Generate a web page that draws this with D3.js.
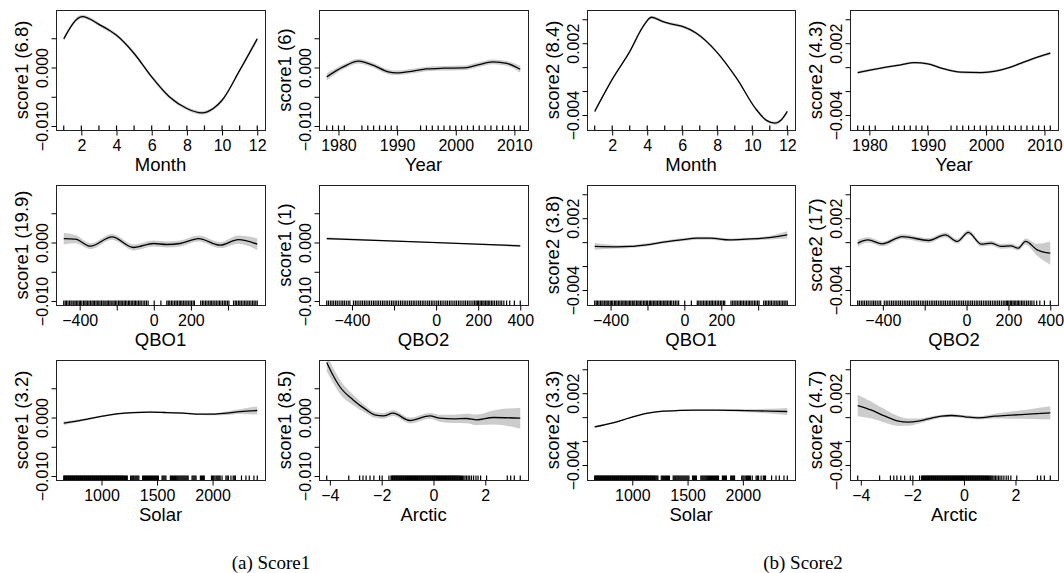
<!DOCTYPE html>
<html><head><meta charset="utf-8">
<script src="https://cdn.jsdelivr.net/npm/d3@7"></script>
<style>body{margin:0;background:#fff}svg{display:block}</style>
</head><body><svg id="c" width="1064" height="573"></svg>
<script>
// ---------- data ----------
const yLim1 = [-0.01068, 0.00983];
const yLim2 = [-0.00525, 0.004775];
const yTicks1 = [-0.010, -0.005, 0.000, 0.005];
const yTickLabels1 = ["\u22120.010", "", "0.000", ""];
const yTicks2 = [-0.004, -0.002, 0.000, 0.002, 0.004];
const yTickLabels2 = ["\u22120.004", "", "", "0.002", ""];

const xTicksMonth = [2, 4, 6, 8, 10, 12];
const xLabelsMonth = ["2", "4", "6", "8", "10", "12"];
const xTicksYear = [1980, 1990, 2000, 2010];
const xLabelsYear = ["1980", "1990", "2000", "2010"];
const xTicksQBO = [-400, -200, 0, 200, 400];
const xLabelsQBO1 = ["\u2212400", "", "0", "200", ""];
const xLabelsQBO2 = ["\u2212400", "", "0", "200", "400"];
const xTicksSolar = [1000, 1500, 2000];
const xLabelsSolar = ["1000", "1500", "2000"];
const xTicksArctic = [-4, -2, 0, 2];
const xLabelsArctic = ["\u22124", "\u22122", "0", "2"];

// rug (observed covariate values)
const rugMonth = [1,2,3,4,5,6,7,8,9,10,11,12];
const rugYear = [1978,1979,1980,1981,1984,1985,1986,1987,1988,1989,1990,1994,1995,1996,1997,1998,1999,2000,2001,2002,2003,2004,2005,2006,2007,2008,2009,2010,2011];
const rugQBO1 = [-486,-478,-471,-463,-455,-447,-441,-432,-425,-418,-410,-402,-395,-388,-379,-372,-365,-357,-350,-342,-334,-327,-320,-312,-305,-297,-290,-282,-274,-268,-259,-252,-245,-237,-230,-221,-214,-206,-199,-190,-183,-176,-168,-160,-153,-145,-137,-130,-122,-114,-106,-99,-91,-83,-75,-68,-58,-49,-40,-31,2,38,70,78,86,95,103,112,120,128,137,145,152,161,169,178,186,195,203,212,219,253,262,270,279,287,296,304,312,320,329,337,346,354,362,371,380,388,397,405,430,439,447,456,464,472,481,490,498,507,515,524,533,541,550,558];
const rugQBO2 = [-520,-512,-503,-495,-487,-478,-470,-461,-452,-444,-436,-427,-418,-410,-393,-384,-376,-367,-358,-350,-341,-333,-324,-316,-307,-298,-290,-281,-273,-264,-255,-247,-238,-230,-221,-212,-204,-195,-187,-178,-169,-161,-152,-144,-135,-126,-118,-109,-101,-92,-83,-75,-66,-58,-49,-40,-32,-23,-15,-6,3,11,20,28,37,46,54,63,71,80,89,97,106,114,123,132,140,149,157,166,175,183,190,196,202,209,215,222,228,235,242,248,255,263,270,278,287,295,304,312,322,335,350,372,400];
const rugSolar = [660,666,672,678,684,690,696,702,708,714,720,726,732,738,744,750,756,762,768,774,780,786,792,798,804,810,816,822,828,834,840,846,852,858,864,870,876,882,888,894,900,906,912,918,924,930,936,942,948,954,960,966,972,978,984,990,996,1002,1008,1014,1020,1026,1032,1038,1044,1050,1056,1062,1068,1074,1080,1086,1092,1098,1104,1110,1116,1122,1128,1134,1140,1146,1152,1158,1164,1170,1176,1182,1188,1194,1200,1208,1216,1224,1232,1262,1272,1281,1290,1300,1309,1318,1327,1336,1370,1379,1388,1396,1405,1414,1422,1431,1440,1449,1458,1467,1476,1485,1494,1503,1512,1545,1553,1562,1571,1580,1620,1629,1638,1647,1656,1665,1673,1682,1690,1699,1708,1717,1726,1735,1744,1753,1762,1771,1780,1815,1824,1833,1842,1851,1890,1899,1908,1917,1925,1990,2000,2010,2021,2032,2041,2050,2059,2068,2085,2120,2131,2142,2165,2185,2195,2205,2260,2300,2330,2372,2402];
const rugArctic = [-4.12,-3.27,-2.85,-2.72,-2.6,-2.45,-2.3,-2.08,-1.98,-1.72,-1.64,-1.61,-1.58,-1.56,-1.53,-1.5,-1.48,-1.45,-1.42,-1.4,-1.37,-1.34,-1.32,-1.29,-1.26,-1.24,-1.21,-1.18,-1.16,-1.13,-1.1,-1.08,-1.05,-1.02,-1.0,-0.97,-0.94,-0.92,-0.89,-0.86,-0.84,-0.81,-0.78,-0.76,-0.73,-0.7,-0.68,-0.65,-0.62,-0.6,-0.57,-0.54,-0.52,-0.49,-0.46,-0.44,-0.41,-0.38,-0.36,-0.33,-0.3,-0.28,-0.25,-0.22,-0.2,-0.17,-0.14,-0.12,-0.09,-0.06,-0.04,-0.01,0.02,0.04,0.07,0.1,0.12,0.15,0.18,0.2,0.23,0.26,0.28,0.31,0.34,0.36,0.39,0.42,0.44,0.47,0.5,0.52,0.55,0.58,0.6,0.63,0.66,0.68,0.71,0.74,0.76,0.79,0.82,0.84,0.87,0.9,0.92,0.95,0.98,1.01,1.04,1.08,1.12,1.17,1.22,1.28,1.34,1.4,1.47,1.55,1.64,1.72,1.82,2.05,2.85,2.98,3.12,3.35];

// smooth fits (x, fit, se)
const s1MonthX   = [1,2.05,3.1,3.65,4.0,5.0,6.0,7.0,8.0,8.85,9.5,10.0,11.0,12.0];
const s1MonthFit = [0.0049,0.0087,0.0072,0.00625,0.0055,0.0024,-0.0016,-0.0050,-0.0070,-0.00775,-0.0070,-0.0056,-0.0005,0.0049];
const s1MonthSe  = [0.0004,0.0003,0.0003,0.0003,0.0003,0.0003,0.0003,0.0003,0.0003,0.0003,0.0003,0.0003,0.0003,0.0004];

const s1YearX   = [1978,1980.8,1983.4,1985.9,1988.5,1989.9,1992.7,1995,1997.9,2001.3,2003.6,2006.4,2008.7,2011];
const s1YearFit = [-0.0016,0.0001,0.0011,0.0004,-0.00075,-0.0009,-0.0006,-0.00025,-0.00012,-0.00007,0.0004,0.00096,0.0007,-0.0003];
const s1YearSe  = [0.0006,0.0004,0.0004,0.0004,0.0004,0.0004,0.0004,0.0004,0.0004,0.0004,0.0004,0.0004,0.0004,0.0006];

const s2MonthX   = [1,2.05,3.0,3.76,4.24,4.9,5.47,6.05,6.81,7.95,9.1,10.24,10.81,11.29,11.67,12];
const s2MonthFit = [-0.0037,-0.0009,0.0013,0.00338,0.00417,0.0038,0.00358,0.00338,0.00283,0.0013,-0.00092,-0.00356,-0.00445,-0.00467,-0.00439,-0.0037];
const s2MonthSe  = [0.00015,0.00012,0.00012,0.00012,0.00012,0.00012,0.00012,0.00012,0.00012,0.00012,0.00012,0.00012,0.00012,0.00012,0.00012,0.00015];

const s2YearX   = [1978,1982,1985.4,1987.7,1990,1992.3,1995.7,1999.1,2002.6,2006,2008.8,2011];
const s2YearFit = [-0.00045,-0.00008,0.00019,0.00038,0.00028,-0.00008,-0.00042,-0.00045,-0.00022,0.00033,0.00083,0.00117];
const s2YearSe  = [0.00013,0.0001,0.0001,0.0001,0.0001,0.0001,0.0001,0.0001,0.0001,0.0001,0.0001,0.00013];

const s1QBO1X   = [-486,-423,-342,-226,-109,-1,70,142,241,358,456,558];
const s1QBO1Fit = [0.00068,0.00057,-0.00063,0.00097,-0.00085,-0.00017,-0.00034,-0.00017,0.00068,-0.00045,0.0005,-0.00028];
const s1QBO1Se  = [0.001,0.0007,0.0005,0.0005,0.0005,0.0005,0.0005,0.0005,0.0005,0.0005,0.0007,0.001];

const s1QBO2X   = [-520,-60,400];
const s1QBO2Fit = [0.00068,0.000055,-0.00057];
const s1QBO2Se  = [0.0002,0.00007,0.0002];

const s2QBO1X   = [-486,-367,-295,-204,-114,-6,67,139,247,338,428,501,558];
const s2QBO1Fit = [-0.00036,-0.00039,-0.00036,-0.00022,0,0.00022,0.00033,0.00033,0.00019,0.00025,0.00033,0.00047,0.00061];
const s2QBO1Se  = [0.00028,0.00015,0.00012,0.00012,0.00012,0.00012,0.00012,0.00012,0.00012,0.00012,0.00013,0.0002,0.0003];

const s2QBO2X   = [-520,-471,-403,-306,-181,-102,-44,8,71,118,165,212,246,282,337,400];
const s2QBO2Fit = [-0.00008,0.00019,-0.00014,0.00047,0.00014,0.00061,0.00006,0.00081,-0.00017,-0.00008,-0.00036,-0.00031,-0.0005,0.00006,-0.00064,-0.00092];
const s2QBO2Se  = [0.0003,0.00022,0.0002,0.0002,0.0002,0.0002,0.0002,0.0002,0.0002,0.0002,0.0002,0.0002,0.0002,0.00025,0.0005,0.00097];

const s1SolarX   = [660,834,985,1135,1285,1435,1586,1735,1886,2005,2126,2246,2402];
const s1SolarFit = [-0.00097,-0.0004,0.00017,0.00063,0.00085,0.00091,0.00085,0.00074,0.00057,0.00057,0.00074,0.001,0.0012];
const s1SolarSe  = [0.0003,0.0002,0.00015,0.00015,0.00015,0.00015,0.00015,0.00015,0.00015,0.0002,0.0003,0.0004,0.0007];

const s1ArcticX   = [-4.12,-3.9,-3.62,-3.1,-2.59,-2.27,-1.94,-1.56,-0.91,-0.14,0.25,0.76,1.28,1.67,2.31,3.35];
const s1ArcticFit = [0.0094,0.0074,0.0053,0.003,0.0013,0.00045,0.00028,0.00074,-0.00051,0.00028,-0.00011,-0.00023,-0.00017,-0.0004,0,-0.00011];
const s1ArcticSe  = [0.0015,0.0013,0.0012,0.0009,0.0006,0.0005,0.0005,0.0005,0.0005,0.0005,0.0006,0.0007,0.0008,0.0009,0.0012,0.0018];

const s2SolarX   = [660,825,976,1127,1277,1428,1579,1760,1940,2121,2241,2402];
const s2SolarFit = [-0.00081,-0.00047,-0.00006,0.00031,0.0005,0.00056,0.00058,0.00058,0.00056,0.00053,0.0005,0.00047];
const s2SolarSe  = [0.0001,0.00007,0.00006,0.00006,0.00006,0.00006,0.00006,0.00007,0.0001,0.00015,0.0002,0.0003];

const s2ArcticX   = [-4.12,-3.58,-3.06,-2.54,-2.16,-1.77,-1.38,-0.86,-0.47,0.04,0.56,1.21,1.85,2.5,3.35];
const s2ArcticFit = [0.00097,0.00058,0.00008,-0.00033,-0.00042,-0.00033,-0.00014,0.00008,0.00014,0.00003,-0.00006,0.00008,0.00017,0.00025,0.00036];
const s2ArcticSe  = [0.0009,0.0007,0.00055,0.0004,0.0003,0.00022,0.00016,0.00013,0.00012,0.00012,0.00013,0.0002,0.0003,0.0004,0.00055];

const captions = ["(a) Score1", "(b) Score2"];

// ---------- panel table ----------
const panels = [
  {col:0,row:0,x:s1MonthX,fit:s1MonthFit,se:s1MonthSe,rug:rugMonth,xt:xTicksMonth,xl:xLabelsMonth,s:1,xlab:"Month",ylab:"score1 (6.8)"},
  {col:1,row:0,x:s1YearX,fit:s1YearFit,se:s1YearSe,rug:rugYear,xt:xTicksYear,xl:xLabelsYear,s:1,xlab:"Year",ylab:"score1 (6)"},
  {col:2,row:0,x:s2MonthX,fit:s2MonthFit,se:s2MonthSe,rug:rugMonth,xt:xTicksMonth,xl:xLabelsMonth,s:2,xlab:"Month",ylab:"score2 (8.4)"},
  {col:3,row:0,x:s2YearX,fit:s2YearFit,se:s2YearSe,rug:rugYear,xt:xTicksYear,xl:xLabelsYear,s:2,xlab:"Year",ylab:"score2 (4.3)"},
  {col:0,row:1,x:s1QBO1X,fit:s1QBO1Fit,se:s1QBO1Se,rug:rugQBO1,xt:xTicksQBO,xl:xLabelsQBO1,s:1,xlab:"QBO1",ylab:"score1 (19.9)"},
  {col:1,row:1,x:s1QBO2X,fit:s1QBO2Fit,se:s1QBO2Se,rug:rugQBO2,xt:xTicksQBO,xl:xLabelsQBO2,s:1,xlab:"QBO2",ylab:"score1 (1)"},
  {col:2,row:1,x:s2QBO1X,fit:s2QBO1Fit,se:s2QBO1Se,rug:rugQBO1,xt:xTicksQBO,xl:xLabelsQBO1,s:2,xlab:"QBO1",ylab:"score2 (3.8)"},
  {col:3,row:1,x:s2QBO2X,fit:s2QBO2Fit,se:s2QBO2Se,rug:rugQBO2,xt:xTicksQBO,xl:xLabelsQBO2,s:2,xlab:"QBO2",ylab:"score2 (17)"},
  {col:0,row:2,x:s1SolarX,fit:s1SolarFit,se:s1SolarSe,rug:rugSolar,xt:xTicksSolar,xl:xLabelsSolar,s:1,xlab:"Solar",ylab:"score1 (3.2)"},
  {col:1,row:2,x:s1ArcticX,fit:s1ArcticFit,se:s1ArcticSe,rug:rugArctic,xt:xTicksArctic,xl:xLabelsArctic,s:1,xlab:"Arctic",ylab:"score1 (8.5)"},
  {col:2,row:2,x:s2SolarX,fit:s2SolarFit,se:s2SolarSe,rug:rugSolar,xt:xTicksSolar,xl:xLabelsSolar,s:2,xlab:"Solar",ylab:"score2 (3.3)"},
  {col:3,row:2,x:s2ArcticX,fit:s2ArcticFit,se:s2ArcticSe,rug:rugArctic,xt:xTicksArctic,xl:xLabelsArctic,s:2,xlab:"Arctic",ylab:"score2 (4.7)"}
];

// ---------- layout ----------
const cols = [[56,265],[319,528],[587,795],[850,1058]];
const rowTops = [10,185,360];
const ph = 120;
const sans = "'Liberation Sans', Arial, Helvetica, sans-serif";
const tickFont = 16, titleFont = 18.5;

const svg = d3.select("#c");
const defs = svg.append("defs");

function expand(ext){ const r = ext[1]-ext[0]; return [ext[0]-0.04*r, ext[1]+0.04*r]; }

panels.forEach((p, i) => {
  const [x0, x1] = cols[p.col];
  const y0 = rowTops[p.row], y1 = y0 + ph;
  const xs = d3.scaleLinear().domain(expand(d3.extent(p.rug))).range([x0, x1]);
  const ys = d3.scaleLinear().domain(p.s === 1 ? yLim1 : yLim2).range([y1, y0]);
  const g = svg.append("g");

  defs.append("clipPath").attr("id", "clip" + i)
    .append("rect").attr("x", x0).attr("y", y0).attr("width", x1 - x0).attr("height", ph);

  const pts = p.x.map((d, k) => ({x: d, f: p.fit[k], s: p.se[k]}));
  const pg = g.append("g").attr("clip-path", `url(#clip${i})`);
  pg.append("path").datum(pts)
    .attr("d", d3.area().curve(d3.curveMonotoneX).x(d => xs(d.x)).y0(d => ys(d.f - d.s)).y1(d => ys(d.f + d.s)))
    .attr("fill", "#cccccc").attr("stroke", "none");
  pg.append("path").datum(pts)
    .attr("d", d3.line().curve(d3.curveMonotoneX).x(d => xs(d.x)).y(d => ys(d.f)))
    .attr("fill", "none").attr("stroke", "#000").attr("stroke-width", 1.3);

  // rug
  g.append("g").selectAll("line").data(p.rug).join("line")
    .attr("x1", d => xs(d)).attr("x2", d => xs(d))
    .attr("y1", y1).attr("y2", y1 - 4.5)
    .attr("stroke", "#000").attr("stroke-width", 1.2);

  // box
  g.append("rect").attr("x", x0 + 0.5).attr("y", y0 + 0.5).attr("width", x1 - x0).attr("height", ph)
    .attr("fill", "none").attr("stroke", "#222").attr("stroke-width", 1);

  // x axis
  const xa = g.append("g").attr("transform", `translate(0,${y1 + 0.5})`)
    .call(d3.axisBottom(xs).tickValues(p.xt).tickSize(5).tickFormat((d, k) => p.xl[k]));
  xa.select(".domain").remove();
  xa.selectAll(".tick line").attr("stroke", "#000");
  xa.selectAll("text").attr("y", 20).attr("dy", null).attr("fill", "#000")
    .style("font-family", sans).style("font-size", tickFont + "px");

  // y axis
  const yt = p.s === 1 ? yTicks1 : yTicks2;
  const yl = p.s === 1 ? yTickLabels1 : yTickLabels2;
  const ya = g.append("g").attr("transform", `translate(${x0 + 0.5},0)`)
    .call(d3.axisLeft(ys).tickValues(yt).tickSize(5).tickFormat((d, k) => yl[k]));
  ya.select(".domain").remove();
  ya.selectAll(".tick line").attr("stroke", "#000");
  ya.selectAll("text").attr("x", null).attr("dy", null)
    .attr("transform", "translate(-9,0) rotate(-90)").attr("text-anchor", "middle").attr("fill", "#000")
    .style("font-family", sans).style("font-size", tickFont + "px");

  // titles
  g.append("text").attr("x", (x0 + x1) / 2).attr("y", y1 + 41)
    .attr("text-anchor", "middle").style("font-family", sans).style("font-size", titleFont + "px")
    .text(p.xlab);
  g.append("text").attr("transform", `translate(${x0 - 28},${(y0 + y1) / 2}) rotate(-90)`)
    .attr("text-anchor", "middle").style("font-family", sans).style("font-size", titleFont + "px")
    .text(p.ylab);
});

// captions
const capX = [271, 803];
captions.forEach((c, k) => {
  svg.append("text").attr("x", capX[k]).attr("y", 569).attr("text-anchor", "middle")
    .style("font-family", "'Liberation Serif', 'Times New Roman', serif").style("font-size", "19px")
    .text(c);
});
</script></body></html>
